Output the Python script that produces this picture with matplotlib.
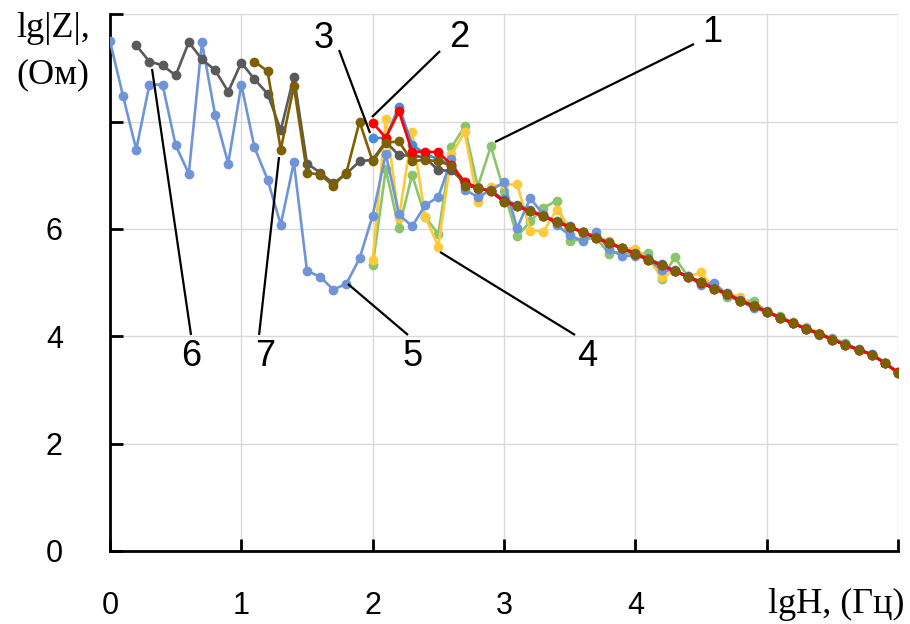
import numpy as np
import matplotlib
matplotlib.use("Agg")
import matplotlib.pyplot as plt
from matplotlib import font_manager as fm

names = {f.name for f in fm.fontManager.ttflist}
SANS = "Liberation Sans Narrow" if "Liberation Sans Narrow" in names else "Liberation Sans"
SERIF = "Liberation Serif"
plt.rcParams['font.family'] = [SANS, 'DejaVu Sans']

# ---- data (lgH step 0.1) ----
start_s1, start_s2, start_s3, start_s4 = 2.0, 2.0, 2.0, 2.0
start_s5, start_s6, start_s7 = 0.0, 0.2, 1.1

s1_green = [5.32, 7.11, 6.01, 7.01, 6.23, 5.90, 7.52, 7.91, 6.79, 7.54,
            6.70, 5.86, 6.14, 6.39, 6.53, 5.78, 5.80, 5.84, 5.54, 5.58,
            5.52, 5.56, 5.06, 5.47, 5.12, 5.00, 4.89, 4.74, 4.66, 4.66,
            4.46, 4.37, 4.26, 4.14, 4.05, 3.96, 3.88, 3.75, 3.66, 3.50, 3.32]
s2_red = [7.98, 7.70, 8.19, 7.44, 7.44, 7.43, 7.20, 6.87, 6.77, 6.70,
          6.52, 6.43, 6.33, 6.24, 6.13, 6.04, 5.94, 5.84, 5.73, 5.64,
          5.54, 5.43, 5.32, 5.22, 5.11, 5.00, 4.89, 4.79, 4.66, 4.57,
          4.46, 4.35, 4.24, 4.14, 4.05, 3.94, 3.84, 3.75, 3.66, 3.50, 3.33]
s3_blue = [7.69, 7.70, 8.28, 7.57, 7.40, 7.30, 7.20, 6.85, 6.75, 6.72,
           6.55, 6.45, 6.35, 6.25, 6.15, 6.05, 5.95, 5.85, 5.75, 5.65,
           5.55, 5.45, 5.34, 5.23, 5.12, 5.02, 4.90, 4.80, 4.68, 4.58,
           4.47, 4.36, 4.25, 4.15, 4.05, 3.95, 3.85, 3.76, 3.67, 3.51, 3.33]
s4_yellow = [5.43, 8.04, 6.20, 7.80, 6.23, 5.67, 7.39, 7.80, 6.51, 6.79,
             6.83, 6.83, 5.97, 5.95, 6.36, 6.04, 5.90, 5.88, 5.77, 5.64,
             5.63, 5.45, 5.10, 5.22, 5.11, 5.19, 4.89, 4.79, 4.74, 4.57,
             4.46, 4.35, 4.24, 4.17, 4.07, 3.94, 3.84, 3.75, 3.66, 3.50, 3.32]
s5_lightblue = [9.50, 8.47, 7.48, 8.69, 8.69, 7.56, 7.03, 9.48, 8.13, 7.22,
                8.69, 7.52, 6.92, 6.08, 7.24, 5.22, 5.11, 4.87, 4.98, 5.45,
                6.25, 7.40, 6.27, 6.05, 6.44, 6.60, 7.30, 6.73, 6.60, 6.72,
                6.87, 6.02, 6.57, 6.27, 6.08, 5.88, 5.78, 5.94, 5.62, 5.50,
                5.50, 5.43, 5.24, 5.22, 5.11, 4.96, 5.00, 4.77, 4.66, 4.52,
                4.46, 4.35, 4.24, 4.14, 4.03, 3.94, 3.84, 3.75, 3.66, 3.50, 3.32]
s6_gray = [9.42, 9.12, 9.05, 8.86, 9.48, 9.16, 8.96, 8.56, 9.10, 8.79,
           8.52, 7.84, 8.84, 7.22, 7.05, 6.85, 7.03, 7.26, 7.29, 7.63,
           7.37, 7.37, 7.33, 7.09, 7.09, 6.87, 6.77, 6.70,
           6.51, 6.42, 6.33, 6.24, 6.13, 6.04, 5.94, 5.84, 5.73, 5.64,
           5.54, 5.43, 5.32, 5.22, 5.11, 5.01, 4.89, 4.79, 4.66, 4.57,
           4.46, 4.35, 4.24, 4.14, 4.05, 3.94, 3.84, 3.75, 3.66, 3.50, 3.32]
s7_brown = [9.12, 8.94, 7.48, 8.66, 7.05, 7.01, 6.81, 7.05, 8.00,
            7.26, 7.61, 7.63, 7.26, 7.29, 7.26, 7.18, 6.81, 6.77, 6.70,
            6.51, 6.42, 6.33, 6.24, 6.13, 6.04, 5.94, 5.84, 5.73, 5.64,
            5.54, 5.43, 5.32, 5.22, 5.11, 5.01, 4.89, 4.79, 4.66, 4.57,
            4.46, 4.35, 4.24, 4.14, 4.05, 3.94, 3.84, 3.75, 3.66, 3.50, 3.32]

x_ticks = [0, 1, 2, 3, 4, 5, 6]
x_labels = ["0", "1", "2", "3", "4", "", ""]
y_ticks = [0, 2, 4, 6, 8, 10]
y_labels = ["0", "2", "4", "6", "", ""]

# labels: (text, text position, line start, line end)
annotations = [
    ("1", (4.584, 9.67), (4.447, 9.447), (2.932, 7.621)),
    ("2", (2.657, 9.56), (2.513, 9.316), (1.995, 8.086)),
    ("3", (1.630, 9.54), (1.744, 9.335), (1.980, 7.788)),
    ("4", (3.632, 3.615), (3.541, 4.025), (2.513, 5.571)),
    ("5", (2.300, 3.615), (2.269, 4.025), (1.812, 4.975)),
    ("6", (0.617, 3.615), (0.617, 4.025), (0.320, 8.981)),
    ("7", (1.180, 3.615), (1.135, 4.025), (1.287, 7.341)),
]


def xs(start, vals):
    return start + 0.1 * np.arange(len(vals))


fig = plt.figure(figsize=(9.1, 6.24), dpi=100)
ax = fig.add_axes([110 / 910, 1 - 551 / 624, 788 / 910, 536.7 / 624])

lw, ms = 1.9, 6
ax.plot(xs(start_s1, s1_green), s1_green, '-o', color='#8CC46C', lw=lw, ms=ms, zorder=3)
ax.plot(xs(start_s4, s4_yellow), s4_yellow, '-o', color='#FFCA3A', lw=lw, ms=ms, zorder=3)
ax.plot(xs(start_s5, s5_lightblue), s5_lightblue, '-o', color='#6F95D8', lw=lw, ms=ms, zorder=3)
ax.plot(xs(start_s3, s3_blue), s3_blue, '-o', color='#4A8BD6', lw=lw, ms=ms, zorder=3)
ax.plot(xs(start_s6, s6_gray), s6_gray, '-o', color='#5A5A5A', lw=lw, ms=ms, zorder=3)
ax.plot(xs(start_s7, s7_brown), s7_brown, '-', color='#7F6000', lw=lw, zorder=3)
ax.plot(xs(start_s2, s2_red), s2_red, '-o', color='#FF0000', lw=lw, ms=ms, zorder=4)
ax.plot(xs(start_s7, s7_brown), s7_brown, 'o', color='#7F6000', ms=ms, zorder=5)

ax.set_xlim(0, 6)
ax.set_ylim(0, 10)
ax.set_xticks(x_ticks)
ax.set_xticklabels(x_labels, fontsize=22, family=[SANS, 'DejaVu Sans'])
ax.set_yticks(y_ticks)
ax.set_yticklabels(y_labels, fontsize=22, family=[SANS, 'DejaVu Sans'])
ax.grid(True, color='#D9D9D9', lw=1.0, zorder=0)
ax.set_axisbelow(True)
for s in ('top', 'right'):
    ax.spines[s].set_visible(False)
for s in ('left', 'bottom'):
    ax.spines[s].set_linewidth(2.0)
    ax.spines[s].set_color('black')
ax.tick_params(axis='both', direction='in', length=9, width=2.0)
ax.tick_params(axis='y', pad=34)
ax.tick_params(axis='x', pad=29)

for txt, tpos, p0, p1 in annotations:
    ax.plot([p0[0], p1[0]], [p0[1], p1[1]], color='black', lw=1.6, zorder=6,
            solid_capstyle='butt')
    ax.text(tpos[0], tpos[1], txt, ha='center', va='center', fontsize=26,
            family=[SANS, 'DejaVu Sans'], zorder=7)

fig.text(16 / 910, 1 - 37 / 624, "lg|Z|,", ha='left', va='baseline',
         fontsize=26, family=SERIF)
fig.text(16 / 910, 1 - 83 / 624, "(Ом)", ha='left', va='baseline',
         fontsize=26, family=SERIF)
fig.text(905 / 910, 1 - 604 / 624, "lgH, (Гц)", ha='right', va='center',
         fontsize=26, family=SERIF)

fig.savefig("out.png", dpi=100)
